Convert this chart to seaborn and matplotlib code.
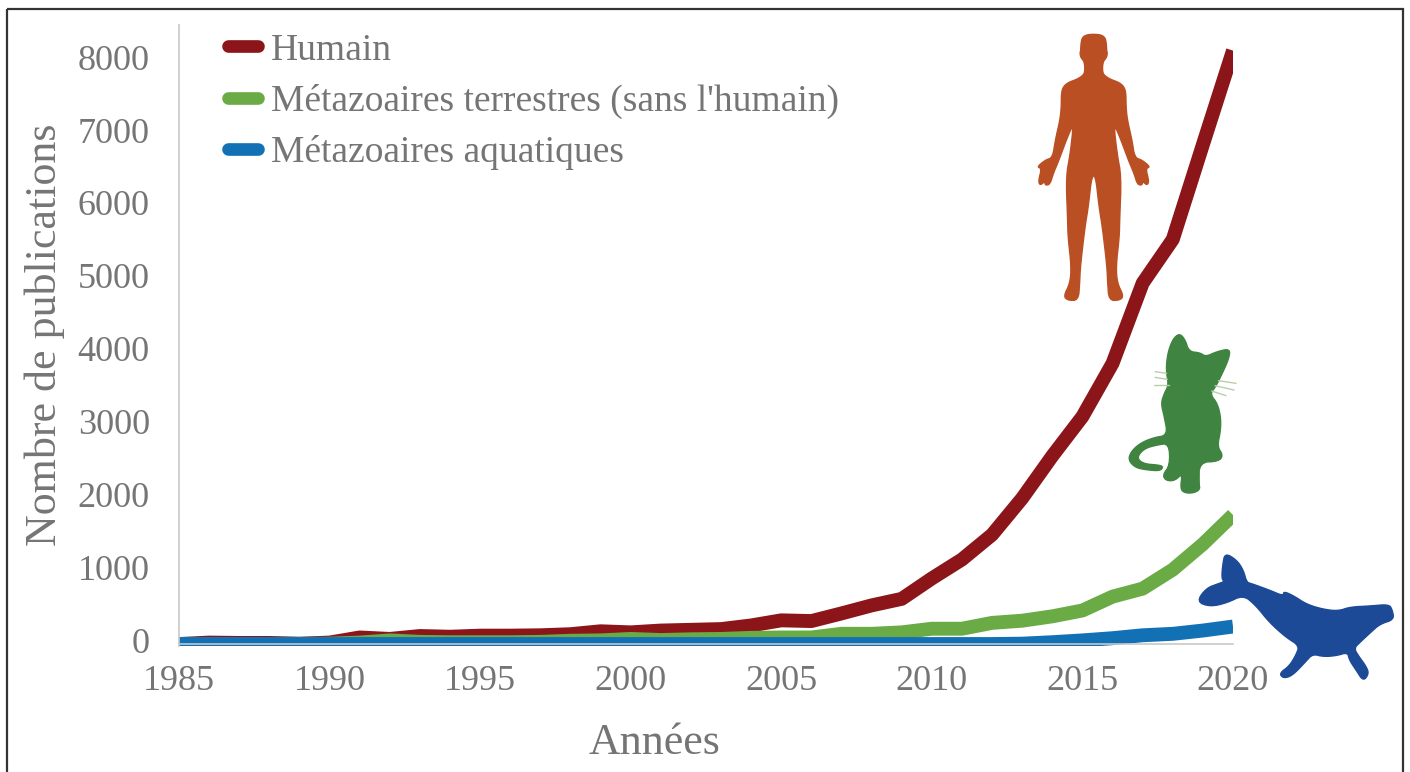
import numpy as np
import pandas as pd
import matplotlib
matplotlib.use("Agg")
import matplotlib.pyplot as plt
from matplotlib.patches import Polygon, Rectangle
from matplotlib.transforms import ScaledTranslation
import seaborn as sns

# === Data ===
years = list(range(1985, 2021))
humain = [0, 20, 15, 15, 5, 20, 90, 70, 110, 100, 115, 115, 120, 135, 175, 160, 185, 195,
          205, 255, 325, 315, 420, 530, 620, 900, 1160, 1500, 2000, 2580, 3120, 3850,
          4950, 5550, 6850, 8140]
terrestres = [0, 0, 0, 0, 0, 5, 20, 50, 30, 25, 25, 25, 30, 45, 50, 70, 55, 65,
              70, 85, 90, 90, 140, 140, 160, 210, 210, 290, 320, 380, 460, 650,
              760, 1020, 1370, 1770]
aquatiques = [0, 0, 0, 0, 0, 0, 0, 0, 0, 0, 0, 0, 0, 0, 0, 0, 0, 0,
              0, 0, 0, 0, 0, 0, 0, 0, 0, 0, 5, 25, 50, 80,
              120, 140, 185, 240]
labels = ["Humain", "Métazoaires terrestres (sans l'humain)", "Métazoaires aquatiques"]
colors = ["#8b1518", "#6aab45", "#1270b5"]
x_ticks = list(range(1985, 2021, 5))
y_ticks = list(range(0, 8001, 1000))

df = pd.DataFrame({"Années": years, labels[0]: humain, labels[1]: terrestres, labels[2]: aquatiques})
df = df.melt(id_vars="Années", var_name="groupe", value_name="n")

sns.set_style("white")
plt.rcParams["font.family"] = ["Liberation Serif", "DejaVu Serif"]
GREY = "#757575"

W, H = 1410, 772
fig = plt.figure(figsize=(W / 100, H / 100), dpi=100)
# axes stop just under the zero line, the thick lines get clipped there like in the original
ax = fig.add_axes([179 / W, 1 - 646 / H, (1233 - 179) / W, (646 - 25) / H])

sns.lineplot(data=df, x="Années", y="n", hue="groupe", hue_order=labels, palette=colors,
             linewidth=10, ax=ax, solid_joinstyle="round", solid_capstyle="butt")
ax.set_xlim(1985, 2020)
ax.set_ylim(-27, 8491)
ax.set_xticks(x_ticks)
ax.set_yticks(y_ticks)
ax.tick_params(axis="both", length=0, labelsize=26, labelcolor=GREY)
ax.tick_params(axis="x", pad=15)
ax.tick_params(axis="y", pad=21)
for t in ax.get_yticklabels():
    t.set_transform(t.get_transform() + ScaledTranslation(0, 2.6 / 72, fig.dpi_scale_trans))
ax.set_xlabel("")
ax.set_ylabel("")
for s in ["top", "right"]:
    ax.spines[s].set_visible(False)
for s in ["left", "bottom"]:
    ax.spines[s].set_color("#c8c8c8")
    ax.spines[s].set_linewidth(1.2)
ax.spines["bottom"].set_position(("data", 0))

leg = ax.legend(loc="upper left", bbox_to_anchor=(49 / 1054, 1 - 8 / 621), frameon=False,
                fontsize=27, labelcolor=GREY, handlelength=0.8, handletextpad=0.35,
                labelspacing=0.43, borderpad=0, borderaxespad=0)
for line in leg.get_lines():
    line.set_solid_capstyle("round")
    line.set_linewidth(9.1)

# overlay in image pixels for the frame, axis titles and the silhouettes
ov = fig.add_axes([0, 0, 1, 1], zorder=5)
ov.set_xlim(0, W)
ov.set_ylim(H, 0)
ov.axis("off")
ov.patch.set_alpha(0)
ov.add_patch(Rectangle((6.5, 8.5), 1396, 800, fill=False, ec="#333333", lw=1.6, clip_on=True))
ov.text(45, 335, "Nombre de publications", rotation=90, ha="center", va="center", fontsize=31.7, color=GREY)
ov.text(655, 743, "Années", ha="center", va="center", fontsize=31.7, color=GREY)


def chaikin(pts, n=2):
    pts = np.array(pts, dtype=float)
    for _ in range(n):
        nxt = np.roll(pts, -1, axis=0)
        pts = np.column_stack([0.75 * pts + 0.25 * nxt, 0.25 * pts + 0.75 * nxt]).reshape(-1, 2)
    return pts


def silhouette(pts, ox, oy, color, n=2):
    pts = np.array(pts, dtype=float) / 3 + [ox, oy]
    ov.add_patch(Polygon(chaikin(pts, n), closed=True, fc=color, ec=color, lw=1))


# human, outline given for the right half then mirrored
half = [(0, 43), (20, 44), (34, 52), (38, 70), (39, 93), (41, 98), (39, 112), (28, 125), (26, 150),
        (30, 165), (50, 178), (78, 188), (93, 203), (97, 225), (97, 260), (101, 300), (115, 360),
        (123, 413), (145, 420), (170, 441), (156, 445), (166, 484), (160, 496), (147, 484),
        (145, 496), (131, 493), (121, 460), (106, 425), (82, 360), (60, 308), (70, 400), (83, 470),
        (78, 600), (77, 650), (67, 740), (71, 790), (90, 828), (78, 841),
        (46, 841), (42, 790), (40, 740), (26, 620), (16, 560), (6, 468)]
right = [(221 + a, b) for a, b in half]
left = [(221 - a, b) for a, b in half[::-1]]
silhouette(right + left, 1020, 20, "#bb4f24")

cat = [(178, 40), (195, 58), (207, 95), (240, 98), (257, 110), (290, 95), (330, 86), (327, 115), (307, 160),
       (287, 200), (270, 222), (292, 250), (302, 290), (302, 330), (292, 380), (309, 405), (297, 424),
       (238, 427), (237, 490), (240, 509), (220, 519), (195, 519), (181, 507), (187, 460), (165, 482),
       (138, 482), (128, 465), (150, 435), (147, 370), (110, 375), (75, 385), (55, 405), (55, 420),
       (75, 432), (115, 435), (130, 440), (120, 453), (75, 449), (45, 442), (25, 420), (33, 395), (60, 370),
       (100, 353), (143, 346), (133, 290), (123, 250), (133, 220), (146, 195), (138, 150), (143, 100), (158, 58)]
silhouette(cat, 1120, 320, "#3f8440")
whiskers = [((105, 155), (140, 160)), ((105, 172), (142, 178)), ((102, 195), (147, 195)),
            ((295, 182), (348, 190)), ((285, 197), (342, 210)), ((275, 213), (318, 227))]
for a, b in whiskers:
    ov.plot([1120 + a[0] / 3, 1120 + b[0] / 3], [320 + a[1] / 3, 320 + b[1] / 3], color="#b5d0a8", lw=1)

whale = [(105, 24), (140, 45), (160, 75), (170, 112), (185, 116), (240, 136), (280, 153), (281, 139), (312, 153),
         (350, 178), (400, 193), (445, 198), (480, 186), (540, 183), (597, 178), (607, 195), (612, 224),
         (570, 237), (540, 264), (510, 292), (492, 310), (507, 335), (527, 362), (537, 385), (520, 409),
         (498, 375), (478, 345), (473, 322), (440, 332), (400, 335), (368, 327), (347, 350), (307, 392),
         (280, 400), (268, 385), (298, 363), (318, 330), (328, 302), (288, 277), (238, 232), (198, 182),
         (160, 150), (110, 174), (60, 185), (20, 170), (48, 130), (85, 116), (103, 110), (95, 100), (98, 60)]
silhouette(whale, 1190, 545, "#1c4a97")

fig.savefig("out.png", dpi=100)
